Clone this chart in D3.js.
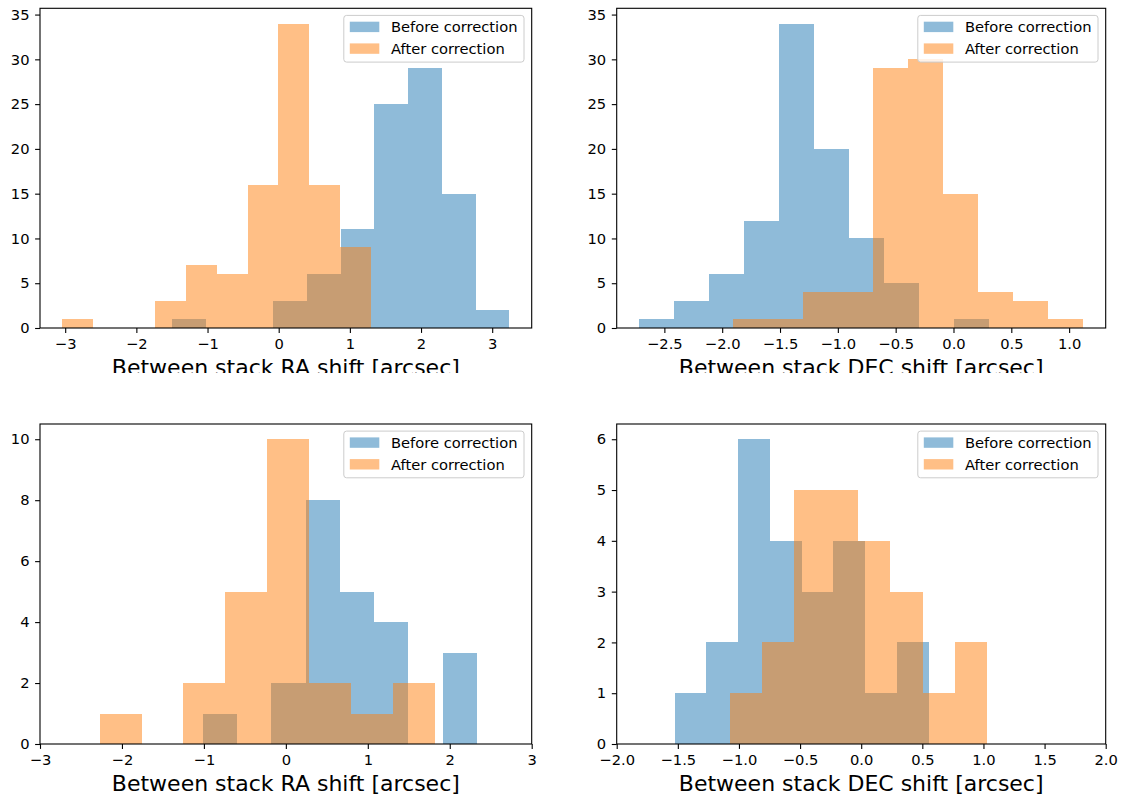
<!DOCTYPE html>
<html>
<head>
<meta charset="utf-8">
<script src="https://cdn.jsdelivr.net/npm/d3@7/dist/d3.min.js"></script>
<style>
  html, body { margin: 0; padding: 0; background: #fff; }
  svg { display: block; }
  text { font-family: "DejaVu Sans", sans-serif; fill: #000; }
</style>
</head>
<body>
<svg id="chart" width="1126" height="801"></svg>
<script>
// ---------------- DATA ----------------
const seriesNames = ["Before correction", "After correction"];
const seriesColors = ["#1f77b4", "#ff7f0e"];

// Top-left: RA shift, large sample
const topRaBeforeEdges  = [-1.497, -1.023, -0.550, -0.076, 0.398, 0.872, 1.346, 1.819, 2.293, 2.767, 3.241];
const topRaBeforeCounts = [1, 0, 0, 3, 6, 11, 25, 29, 15, 2];
const topRaAfterEdges   = [-3.040, -2.606, -2.173, -1.739, -1.306, -0.872, -0.438, -0.005, 0.429, 0.862, 1.296];
const topRaAfterCounts  = [1, 0, 0, 3, 7, 6, 16, 34, 16, 9];

// Top-right: DEC shift, large sample
const topDecBeforeEdges  = [-2.720, -2.418, -2.115, -1.813, -1.510, -1.208, -0.906, -0.603, -0.301, 0.002, 0.304];
const topDecBeforeCounts = [1, 3, 6, 12, 34, 20, 10, 5, 0, 1];
const topDecAfterEdges   = [-1.907, -1.604, -1.301, -0.998, -0.695, -0.392, -0.088, 0.215, 0.518, 0.821, 1.124];
const topDecAfterCounts  = [1, 1, 4, 4, 29, 30, 15, 4, 3, 1];

// Bottom-left: RA shift, small sample
const botRaBeforeEdges  = [-1.016, -0.597, -0.179, 0.240, 0.659, 1.077, 1.496, 1.914, 2.333];
const botRaBeforeCounts = [1, 0, 2, 8, 5, 4, 0, 3];
const botRaAfterEdges   = [-2.272, -1.761, -1.249, -0.738, -0.227, 0.285, 0.796, 1.308, 1.819];
const botRaAfterCounts  = [1, 0, 2, 5, 10, 2, 1, 2];

// Bottom-right: DEC shift, small sample
const botDecBeforeEdges  = [-1.526, -1.266, -1.006, -0.747, -0.487, -0.227, 0.033, 0.293, 0.553];
const botDecBeforeCounts = [1, 2, 6, 4, 3, 4, 1, 2];
const botDecAfterEdges   = [-1.071, -0.809, -0.547, -0.285, -0.023, 0.239, 0.502, 0.764, 1.026];
const botDecAfterCounts  = [1, 2, 5, 5, 4, 3, 1, 2];

// Tick values
const topRaXTicks  = [-3, -2, -1, 0, 1, 2, 3];
const topDecXTicks = [-2.5, -2.0, -1.5, -1.0, -0.5, 0.0, 0.5, 1.0];
const botRaXTicks  = [-3, -2, -1, 0, 1, 2, 3];
const botDecXTicks = [-2.0, -1.5, -1.0, -0.5, 0.0, 0.5, 1.0, 1.5, 2.0];
const topYTicks    = [0, 5, 10, 15, 20, 25, 30, 35];
const botRaYTicks  = [0, 2, 4, 6, 8, 10];
const botDecYTicks = [0, 1, 2, 3, 4, 5, 6];

const botRaXLim  = [-3, 3];
const botDecXLim = [-2, 2];

const raLabel  = "Between stack RA shift [arcsec]";
const decLabel = "Between stack DEC shift [arcsec]";

// ---------------- LAYOUT ----------------
const svg = d3.select("#chart");
svg.append("rect").attr("width", 1126).attr("height", 801).attr("fill", "#fff");

svg.append("defs").append("clipPath").attr("id", "topLabelClip")
  .append("rect").attr("x", 0).attr("y", 0).attr("width", 1126).attr("height", 373);

const colL = [40, 531.7], colR = [616.7, 1105.7];
const rowT = [8.3, 328], rowB = [424, 744];

function autoLim(edgeArrays) {
  const lo = d3.min(edgeArrays, e => e[0]);
  const hi = d3.max(edgeArrays, e => e[e.length - 1]);
  const m = (hi - lo) * 0.05;
  return [lo - m, hi + m];
}

const panels = [
  { xr: colL, yr: rowT, before: [topRaBeforeEdges, topRaBeforeCounts], after: [topRaAfterEdges, topRaAfterCounts],
    xlim: autoLim([topRaBeforeEdges, topRaAfterEdges]), xticks: topRaXTicks, yticks: topYTicks,
    xfmt: d3.format("d"), label: raLabel, clip: true },
  { xr: colR, yr: rowT, before: [topDecBeforeEdges, topDecBeforeCounts], after: [topDecAfterEdges, topDecAfterCounts],
    xlim: autoLim([topDecBeforeEdges, topDecAfterEdges]), xticks: topDecXTicks, yticks: topYTicks,
    xfmt: d3.format(".1f"), label: decLabel, clip: true },
  { xr: colL, yr: rowB, before: [botRaBeforeEdges, botRaBeforeCounts], after: [botRaAfterEdges, botRaAfterCounts],
    xlim: botRaXLim, xticks: botRaXTicks, yticks: botRaYTicks,
    xfmt: d3.format("d"), label: raLabel, clip: false },
  { xr: colR, yr: rowB, before: [botDecBeforeEdges, botDecBeforeCounts], after: [botDecAfterEdges, botDecAfterCounts],
    xlim: botDecXLim, xticks: botDecXTicks, yticks: botDecYTicks,
    xfmt: d3.format(".1f"), label: decLabel, clip: false }
];

const FS = 14.7;

panels.forEach(p => {
  const x = d3.scaleLinear().domain(p.xlim).range(p.xr);
  const ymax = 1.05 * d3.max([...p.before[1], ...p.after[1]]);
  const y = d3.scaleLinear().domain([0, ymax]).range([p.yr[1], p.yr[0]]);
  const g = svg.append("g");

  [p.before, p.after].forEach((s, si) => {
    const [edges, counts] = s;
    const bins = counts.map((c, i) => ({ x0: edges[i], x1: edges[i + 1], c })).filter(b => b.c > 0);
    g.append("g").attr("shape-rendering", "crispEdges")
      .selectAll("rect").data(bins).join("rect")
      .attr("x", b => x(b.x0))
      .attr("width", b => x(b.x1) - x(b.x0))
      .attr("y", b => y(b.c))
      .attr("height", b => y(0) - y(b.c))
      .attr("fill", seriesColors[si])
      .attr("fill-opacity", 0.5);
  });

  // axes
  const xAxis = d3.axisBottom(x).tickValues(p.xticks).tickFormat(p.xfmt)
    .tickSize(4.9).tickSizeOuter(0).tickPadding(5.8);
  const gx = g.append("g").attr("transform", `translate(0,${p.yr[1]})`).call(xAxis);
  gx.select(".domain").remove();
  gx.selectAll("text").attr("font-size", FS).attr("font-family", "DejaVu Sans").attr("fill", "#000");
  gx.selectAll("line").attr("stroke", "#000").attr("stroke-width", 1.1);

  const yAxis = d3.axisLeft(y).tickValues(p.yticks).tickFormat(d3.format("d"))
    .tickSize(4.9).tickSizeOuter(0).tickPadding(5.6);
  const gy = g.append("g").attr("transform", `translate(${p.xr[0]},0)`).call(yAxis);
  gy.select(".domain").remove();
  gy.selectAll("text").attr("font-size", FS).attr("font-family", "DejaVu Sans").attr("fill", "#000");
  gy.selectAll("line").attr("stroke", "#000").attr("stroke-width", 1.1);

  // spines
  g.append("rect")
    .attr("x", p.xr[0]).attr("y", p.yr[0])
    .attr("width", p.xr[1] - p.xr[0]).attr("height", p.yr[1] - p.yr[0])
    .attr("fill", "none").attr("stroke", "#000").attr("stroke-width", 1.1);

  // x label
  const lbl = g.append("text")
    .attr("x", (p.xr[0] + p.xr[1]) / 2)
    .attr("y", p.yr[1] + 46.5)
    .attr("text-anchor", "middle")
    .attr("font-size", 22)
    .text(p.label);
  if (p.clip) lbl.attr("clip-path", "url(#topLabelClip)");

  // legend
  const lg = g.append("g");
  const texts = seriesNames.map((n, i) => lg.append("text").attr("font-size", FS).text(n));
  const tw = d3.max(texts, t => t.node().getComputedTextLength());
  const padL = 6, handleW = 29.5, gap = 11.7, padR = 6.5, boxH = 46.7;
  const boxW = padL + handleW + gap + tw + padR;
  const bx = p.xr[1] - 7.7 - boxW, by = p.yr[0] + 7.1;
  lg.insert("rect", ":first-child")
    .attr("x", bx).attr("y", by).attr("width", boxW).attr("height", boxH)
    .attr("rx", 2.8).attr("ry", 2.8)
    .attr("fill", "#fff").attr("fill-opacity", 0.8)
    .attr("stroke", "#cccccc").attr("stroke-width", 1);
  seriesNames.forEach((n, i) => {
    const base = by + 16.9 + i * 21.7;
    lg.append("rect")
      .attr("x", bx + padL).attr("y", base - 10.6)
      .attr("width", handleW).attr("height", 10.4)
      .attr("fill", seriesColors[i]).attr("fill-opacity", 0.5);
    texts[i].attr("x", bx + padL + handleW + gap).attr("y", base);
  });
});
</script>
</body>
</html>
